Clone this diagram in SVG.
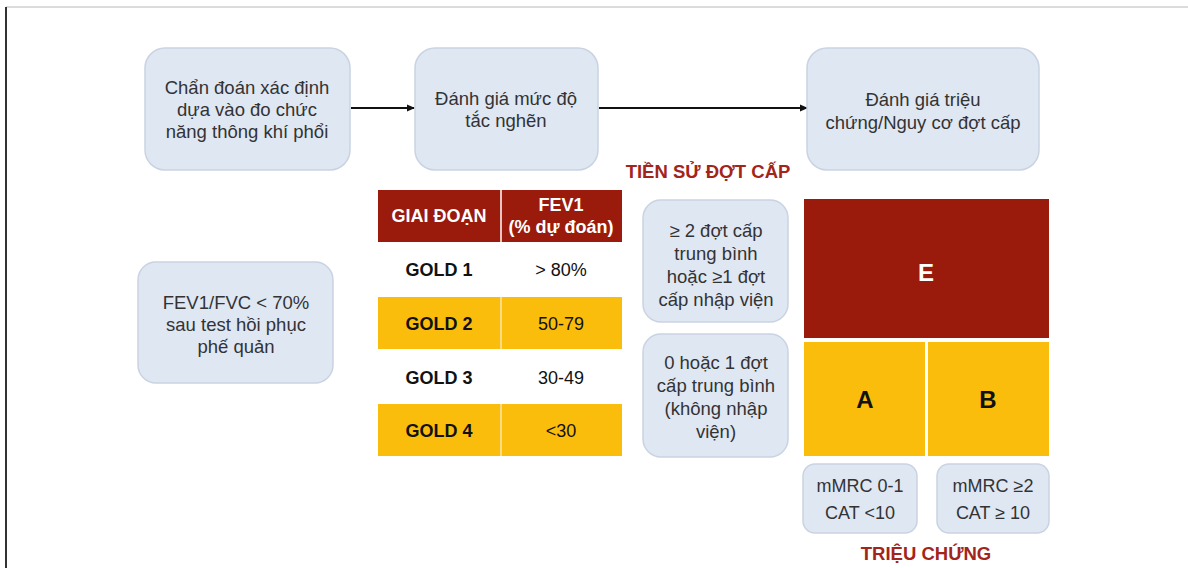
<svg xmlns="http://www.w3.org/2000/svg" width="1188" height="568" viewBox="0 0 1188 568">
<defs>
<style>
.box{fill:#dfe7f3;stroke:#c9d3e2;stroke-width:1.5}
.bt{font-family:"Liberation Sans",Arial,sans-serif;font-size:18.5px;fill:#333;text-anchor:middle}
.st{font-family:"Liberation Sans",Arial,sans-serif;font-size:18px;fill:#333;text-anchor:middle}
.tb{font-family:"Liberation Sans",Arial,sans-serif;font-size:18px;font-weight:bold;fill:#111;text-anchor:middle}
.tr{font-family:"Liberation Sans",Arial,sans-serif;font-size:18px;fill:#111;text-anchor:middle}
.th{font-family:"Liberation Sans",Arial,sans-serif;font-size:18px;font-weight:bold;fill:#fff;text-anchor:middle}
.title{font-family:"Liberation Sans",Arial,sans-serif;font-size:18.5px;font-weight:bold;fill:#a3241a;text-anchor:middle}
.big{font-family:"Liberation Sans",Arial,sans-serif;font-size:24px;font-weight:bold;text-anchor:middle}
.red{fill:#9a1a0c}
.yel{fill:#fbbd0c}
.conn{stroke:#111;stroke-width:2.2;fill:none;marker-end:url(#ah)}
</style>
<marker id="ah" markerWidth="8" markerHeight="8" refX="7" refY="4" orient="auto" markerUnits="userSpaceOnUse">
<path d="M0,0.5 L8,4 L0,7.5 Z" fill="#111"/>
</marker>
</defs>
<rect x="0" y="0" width="1188" height="568" fill="#fff"/>
<line x1="6" y1="7" x2="1188" y2="7" stroke="#cfcfcf" stroke-width="1.5"/>
<line x1="6" y1="7" x2="6" y2="568" stroke="#333" stroke-width="2"/>

<g id="connectors">
<line class="conn" x1="351" y1="108" x2="414" y2="108"/>
<line class="conn" x1="599" y1="108" x2="807" y2="108"/>
</g>

<g id="n-chandoan">
<rect class="box" x="145" y="48" width="205" height="122" rx="20"/>
<text class="bt" x="247" y="94">Chẩn đoán xác định</text>
<text class="bt" x="247" y="116">dựa vào đo chức</text>
<text class="bt" x="247" y="138">năng thông khí phổi</text>
</g>

<g id="n-danhgiamucdo">
<rect class="box" x="415" y="48" width="183" height="122" rx="20"/>
<text class="bt" x="506" y="105">Đánh giá mức độ</text>
<text class="bt" x="506" y="127">tắc nghẽn</text>
</g>

<g id="n-danhgiatrieuchung">
<rect class="box" x="807" y="48" width="232" height="122" rx="20"/>
<text class="bt" x="923" y="106">Đánh giá triệu</text>
<text class="bt" x="923" y="129">chứng/Nguy cơ đợt cấp</text>
</g>

<g id="n-fev1fvc">
<rect class="box" x="138" y="262" width="195" height="121" rx="18"/>
<text class="bt" x="236" y="309">FEV1/FVC &lt; 70%</text>
<text class="bt" x="236" y="331">sau test hồi phục</text>
<text class="bt" x="236" y="353">phế quản</text>
</g>

<g id="n-table">
<rect class="red" x="378" y="190" width="244" height="52"/>
<line x1="501" y1="190" x2="501" y2="242" stroke="#fff" stroke-width="1.5"/>
<text class="th" x="439" y="222">GIAI ĐOẠN</text>
<text class="th" x="561" y="211">FEV1</text>
<text class="th" x="561" y="233">(% dự đoán)</text>
<text class="tb" x="439" y="276">GOLD 1</text>
<text class="tr" x="561" y="276">&gt; 80%</text>
<rect class="yel" x="378" y="297" width="244" height="52"/>
<line x1="501" y1="297" x2="501" y2="349" stroke="#fde7a8" stroke-width="1.5"/>
<text class="tb" x="439" y="330">GOLD 2</text>
<text class="tr" x="561" y="330">50-79</text>
<text class="tb" x="439" y="384">GOLD 3</text>
<text class="tr" x="561" y="384">30-49</text>
<rect class="yel" x="378" y="404" width="244" height="52"/>
<line x1="501" y1="404" x2="501" y2="456" stroke="#fde7a8" stroke-width="1.5"/>
<text class="tb" x="439" y="437">GOLD 4</text>
<text class="tr" x="561" y="437">&lt;30</text>
</g>

<g id="n-tiensu-title">
<text class="title" x="708" y="178">TIỀN SỬ ĐỢT CẤP</text>
</g>

<g id="n-ge2">
<rect class="box" x="643" y="200" width="145" height="122" rx="18"/>
<text class="bt" x="716" y="237">≥ 2 đợt cấp</text>
<text class="bt" x="716" y="260">trung bình</text>
<text class="bt" x="716" y="283">hoặc ≥1 đợt</text>
<text class="bt" x="716" y="306">cấp nhập viện</text>
</g>

<g id="n-0or1">
<rect class="box" x="643" y="334" width="145" height="123" rx="18"/>
<text class="bt" x="716" y="369">0 hoặc 1 đợt</text>
<text class="bt" x="716" y="392">cấp trung bình</text>
<text class="bt" x="716" y="415">(không nhập</text>
<text class="bt" x="716" y="438">viện)</text>
</g>

<g id="n-E">
<rect class="red" x="804" y="199" width="245" height="139"/>
<text class="big" x="926" y="281" fill="#fff">E</text>
</g>
<g id="n-A">
<rect class="yel" x="804" y="342" width="121" height="114"/>
<text class="big" x="865" y="408" fill="#111">A</text>
</g>
<g id="n-B">
<rect class="yel" x="928" y="342" width="121" height="114"/>
<text class="big" x="988" y="408" fill="#111">B</text>
</g>

<g id="n-mmrc01">
<rect class="box" x="803" y="464" width="114" height="69" rx="12"/>
<text class="st" x="860" y="492">mMRC 0-1</text>
<text class="st" x="860" y="519">CAT &lt;10</text>
</g>
<g id="n-mmrc2">
<rect class="box" x="937" y="464" width="112" height="69" rx="12"/>
<text class="st" x="993" y="492">mMRC ≥2</text>
<text class="st" x="993" y="519">CAT ≥ 10</text>
</g>

<g id="n-trieuchung-title">
<text class="title" x="926" y="560">TRIỆU CHỨNG</text>
</g>
</svg>
